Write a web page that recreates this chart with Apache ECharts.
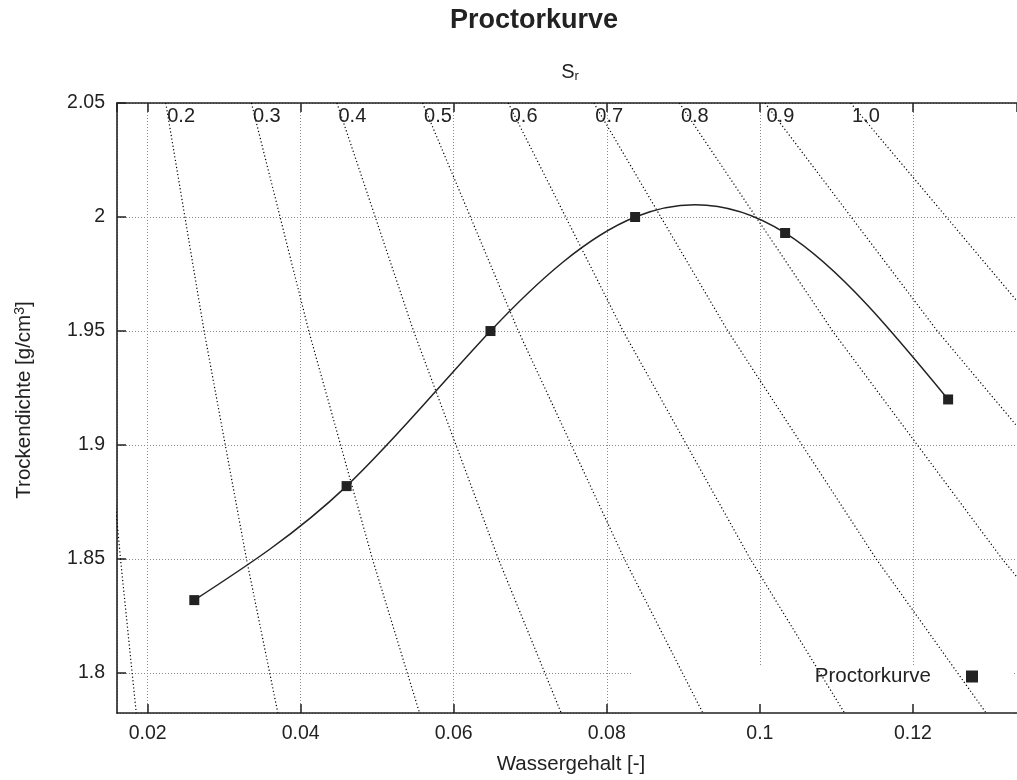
<!DOCTYPE html>
<html>
<head>
<meta charset="utf-8">
<title>Proctorkurve</title>
<script src="https://cdn.jsdelivr.net/npm/echarts@6/dist/echarts.min.js"></script>
<style>
  html, body { margin: 0; padding: 0; background: #fff; }
  #chart { width: 1017px; height: 780px; }
</style>
</head>
<body>
<div id="chart"></div>
<script>
// Proctor test: water content [-] and dry density [g/cm3]
const wassergehalt = [0.0261, 0.0460, 0.0648, 0.0837, 0.1033, 0.1246];
const trockendichte = [1.832, 1.882, 1.950, 2.000, 1.993, 1.920];

// Lines of equal degree of saturation S_r: water content read at these densities
const srDichte = [2.05, 1.95, 1.85, 1.78];
const srNamen = ['0.1', '0.2', '0.3', '0.4', '0.5', '0.6', '0.7', '0.8', '0.9', '1.0'];
const srWasser = [
  [0.01119, 0.01369, 0.01646, 0.01859],
  [0.02237, 0.02738, 0.03292, 0.03717],
  [0.03356, 0.04106, 0.04938, 0.05576],
  [0.04474, 0.05475, 0.06584, 0.07434],
  [0.05593, 0.06844, 0.08230, 0.09293],
  [0.06712, 0.08213, 0.09876, 0.11152],
  [0.07830, 0.09582, 0.11522, 0.13010],
  [0.08949, 0.10950, 0.13168, 0.14869],
  [0.10067, 0.12319, 0.14814, 0.16727],
  [0.11186, 0.13688, 0.16460, 0.18586]
];

const xMin = 0.016, xMax = 0.1336;
const yMin = 1.7825, yMax = 2.05;

const FONT = "'Liberation Sans', Helvetica, Arial, sans-serif";
const INK = '#222';

// Slopes of a natural cubic spline through (xs, ys); used to draw the
// measured curve as cubic Bezier segments between the measured points.
function splineSlopes(xs, ys) {
  const n = xs.length;
  const h = [];
  for (let i = 0; i < n - 1; i++) h.push(xs[i + 1] - xs[i]);
  // tridiagonal system for the second derivatives (M0 = Mn-1 = 0)
  const a = new Array(n).fill(0), b = new Array(n).fill(1), c = new Array(n).fill(0), r = new Array(n).fill(0);
  for (let i = 1; i < n - 1; i++) {
    a[i] = h[i - 1];
    b[i] = 2 * (h[i - 1] + h[i]);
    c[i] = h[i];
    r[i] = 6 * ((ys[i + 1] - ys[i]) / h[i] - (ys[i] - ys[i - 1]) / h[i - 1]);
  }
  for (let i = 1; i < n; i++) {
    const m = a[i] / b[i - 1];
    b[i] -= m * c[i - 1];
    r[i] -= m * r[i - 1];
  }
  const M = new Array(n).fill(0);
  M[n - 1] = r[n - 1] / b[n - 1];
  for (let i = n - 2; i >= 0; i--) M[i] = (r[i] - c[i] * M[i + 1]) / b[i];
  const d = [];
  for (let i = 0; i < n - 1; i++) {
    d.push((ys[i + 1] - ys[i]) / h[i] - h[i] * (2 * M[i] + M[i + 1]) / 6);
  }
  const k = n - 2;
  d.push((ys[k + 1] - ys[k]) / h[k] + h[k] * (M[k] + 2 * M[k + 1]) / 6);
  return d;
}
const steigung = splineSlopes(wassergehalt, trockendichte);

const chart = echarts.init(document.getElementById('chart'), null, { renderer: 'canvas' });

const srSeries = srNamen.map((name, i) => ({
  name: 'Sr ' + name,
  type: 'line',
  data: srDichte.map((d, j) => [srWasser[i][j], d]),
  showSymbol: false,
  symbol: 'none',
  clip: true,
  silent: true,
  z: 2,
  lineStyle: { color: '#000', width: 1.2, type: [1.2, 2.4] }
}));

// labels of the saturation lines where they meet the upper border
const srBeschriftung = {
  name: 'Sr Beschriftung',
  type: 'scatter',
  clip: false,
  silent: true,
  symbolSize: 1,
  itemStyle: { color: 'rgba(0,0,0,0)', opacity: 1 },
  z: 6,
  data: srNamen
    .map((name, i) => ({ name: name, value: [srWasser[i][0], srDichte[0]] }))
    .filter(p => p.value[0] >= xMin),
  label: {
    show: true,
    formatter: p => p.name,
    position: [2, 4],
    align: 'left',
    verticalAlign: 'top',
    fontFamily: FONT,
    fontSize: 20,
    color: INK,
    opacity: 1
  }
};

// smooth curve through the measured points
const kurveLinie = {
  name: 'Proctorkurve Linie',
  type: 'custom',
  silent: true,
  z: 4,
  data: wassergehalt.map((w, i) => [w, trockendichte[i]]),
  renderItem: (params, api) => {
    const i = params.dataIndex;
    if (i >= wassergehalt.length - 1) return null;
    const x0 = wassergehalt[i], x1 = wassergehalt[i + 1];
    const y0 = trockendichte[i], y1 = trockendichte[i + 1];
    const h = x1 - x0;
    const p0 = api.coord([x0, y0]);
    const c1 = api.coord([x0 + h / 3, y0 + steigung[i] * h / 3]);
    const c2 = api.coord([x1 - h / 3, y1 - steigung[i + 1] * h / 3]);
    const p1 = api.coord([x1, y1]);
    return {
      type: 'bezierCurve',
      shape: { x1: p0[0], y1: p0[1], cpx1: c1[0], cpy1: c1[1], cpx2: c2[0], cpy2: c2[1], x2: p1[0], y2: p1[1] },
      style: { fill: null, stroke: INK, lineWidth: 1.5 }
    };
  }
};

const kurvePunkte = {
  name: 'Proctorkurve',
  type: 'scatter',
  data: wassergehalt.map((w, i) => [w, trockendichte[i]]),
  symbol: 'rect',
  symbolSize: 10,
  z: 5,
  itemStyle: { color: INK, opacity: 1 }
};

const axisLine = { show: true, lineStyle: { color: INK, width: 1.6 } };
const gridLine = { show: true, lineStyle: { color: '#8a8a8a', width: 1, type: [1, 2] } };

chart.setOption({
  backgroundColor: '#fff',
  animation: false,
  textStyle: { fontFamily: FONT },
  title: {
    text: 'Proctorkurve',
    left: 450,
    top: 7,
    padding: 0,
    textStyle: { fontFamily: FONT, fontSize: 27, fontWeight: 'bold', color: INK }
  },
  grid: { left: 117, right: 0, top: 103, bottom: 65, show: false },
  legend: {
    data: ['Proctorkurve'],
    right: 39,
    top: 666,
    padding: 0,
    align: 'right',
    icon: 'path://M0,0M30,0L42,0L42,12L30,12Z',
    itemWidth: 42,
    itemHeight: 12,
    selectedMode: false,
    textStyle: { fontFamily: FONT, fontSize: 20.5, color: INK }
  },
  xAxis: [
    {
      type: 'value',
      position: 'bottom',
      min: xMin,
      max: xMax,
      minInterval: 0.02,
      maxInterval: 0.02,
      splitNumber: 6,
      z: 3,
      name: 'Wassergehalt [-]',
      nameLocation: 'middle',
      nameGap: 41,
      nameTextStyle: { fontFamily: FONT, fontSize: 20.5, color: INK, padding: [0, 0, 0, 8] },
      axisLine: axisLine,
      axisTick: { show: true, inside: true, length: 9, lineStyle: { color: INK, width: 1.5 } },
      axisLabel: { show: true, margin: 11, fontFamily: FONT, fontSize: 19.5, color: INK, showMinLabel: false, showMaxLabel: false },
      splitLine: { show: false }
    },
    {
      type: 'value',
      position: 'top',
      min: xMin,
      max: xMax,
      minInterval: 0.02,
      maxInterval: 0.02,
      splitNumber: 6,
      z: 0,
      name: 'S{sub|r}',
      nameLocation: 'middle',
      nameGap: 20,
      nameTextStyle: {
        fontFamily: FONT, fontSize: 20, color: INK,
        padding: [0, 0, 0, 6],
        rich: { sub: { fontFamily: FONT, fontSize: 13, color: INK, verticalAlign: 'bottom', padding: [8, 0, 0, 0] } }
      },
      axisLine: axisLine,
      axisTick: { show: true, inside: true, length: 9, lineStyle: { color: INK, width: 1.5 } },
      axisLabel: { show: false },
      splitLine: gridLine
    }
  ],
  yAxis: {
    type: 'value',
    min: yMin,
    max: yMax,
    minInterval: 0.05,
    maxInterval: 0.05,
    splitNumber: 5,
    z: 0,
    name: 'Trockendichte [g/cm{sup|3}]',
    nameLocation: 'middle',
    nameRotate: 90,
    nameGap: 82,
    nameTextStyle: {
      fontFamily: FONT, fontSize: 20.5, color: INK,
      padding: [0, 0, 0, 16],
      rich: { sup: { fontFamily: FONT, fontSize: 14, color: INK, verticalAlign: 'top', padding: [0, 0, 8, 0] } }
    },
    axisLine: axisLine,
    axisTick: { show: true, inside: true, length: 9, lineStyle: { color: INK, width: 1.5 } },
    axisLabel: { show: true, margin: 12, fontFamily: FONT, fontSize: 19.5, color: INK, showMinLabel: false, showMaxLabel: true },
    splitLine: gridLine
  },
  graphic: {
    elements: [
      {
        // opaque key area: hides the grid behind the legend entry
        type: 'rect',
        left: 631,
        top: 666,
        z: 1,
        silent: true,
        shape: { width: 382, height: 48 },
        style: { fill: '#fff' }
      }
    ]
  },
  series: [...srSeries, srBeschriftung, kurveLinie, kurvePunkte]
});
</script>
</body>
</html>
